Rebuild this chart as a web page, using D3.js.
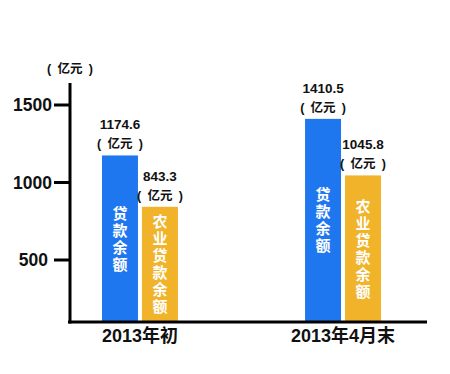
<!DOCTYPE html>
<html>
<head>
<meta charset="utf-8">
<script src="https://cdn.jsdelivr.net/npm/d3@7"></script>
<style>
  body { margin: 0; background: #fff; }
  text { font-family: "Liberation Sans", "Noto Sans CJK SC", sans-serif; font-weight: bold; }
</style>
</head>
<body>
<script>
// data
const periods = ["2013年初", "2013年4月末"];
const seriesNames = ["贷款余额", "农业贷款余额"];
const loans = [1174.6, 1410.5];
const farmLoans = [843.3, 1045.8];
const yTicks = [500, 1000, 1500];
const unitLabel = "(\u2002亿元\u2002)";

const colors = ["#1f77f0", "#f0b32a"];

const width = 450, height = 374;

const svg = d3.select("body").append("svg")
    .attr("width", width)
    .attr("height", height);

// y scale: 1500 -> 105, 500 -> 260
const y = d3.scaleLinear().domain([500, 1500]).range([260, 105]);
const baseY = 322;

const x0 = d3.scaleBand().domain(periods).range([69.5, 413.5]).paddingInner(0.626).paddingOuter(0.16);
const x1 = d3.scaleBand().domain(seriesNames).range([0, x0.bandwidth()]).paddingInner(0.1);

const rows = periods.map((p, i) => ({ period: p, values: [loans[i], farmLoans[i]] }));

// bars
const groups = svg.selectAll("g.grp")
    .data(rows)
    .join("g")
    .attr("class", "grp")
    .attr("transform", d => `translate(${x0(d.period)},0)`);

const bars = groups.selectAll("g.bar")
    .data(d => d.values.map((v, j) => ({ name: seriesNames[j], v: v, j: j })))
    .join("g")
    .attr("class", "bar");

bars.append("rect")
    .attr("x", d => x1(d.name))
    .attr("y", d => y(d.v))
    .attr("width", x1.bandwidth())
    .attr("height", d => baseY - y(d.v))
    .attr("fill", d => colors[d.j]);

// value labels above bars
bars.append("text")
    .attr("x", d => x1(d.name) + x1.bandwidth() / 2)
    .attr("y", d => y(d.v) - 26)
    .attr("text-anchor", "middle")
    .attr("font-size", 13.5)
    .attr("fill", "#111")
    .text(d => d.v.toFixed(1));

bars.append("text")
    .attr("x", d => x1(d.name) + x1.bandwidth() / 2)
    .attr("y", d => y(d.v) - 7)
    .attr("text-anchor", "middle")
    .attr("font-size", 12.5)
    .attr("fill", "#111")
    .text(unitLabel);

// vertical names inside bars
const step = 17;
bars.each(function(d) {
    const chars = Array.from(d.name);
    const mid = (y(d.v) + baseY) / 2;
    const start = mid - (chars.length - 1) * step / 2;
    d3.select(this).selectAll("text.vch")
        .data(chars)
        .join("text")
        .attr("class", "vch")
        .attr("x", x1(d.name) + x1.bandwidth() / 2)
        .attr("y", (c, k) => start + k * step)
        .attr("dy", "0.36em")
        .attr("text-anchor", "middle")
        .attr("font-size", 15)
        .attr("fill", "#fff")
        .text(c => c);
});

// y axis
svg.append("line")
    .attr("x1", 70).attr("x2", 70)
    .attr("y1", 83).attr("y2", baseY + 1.5)
    .attr("stroke", "#000").attr("stroke-width", 3);

svg.selectAll("line.tick")
    .data(yTicks)
    .join("line")
    .attr("class", "tick")
    .attr("x1", 54).attr("x2", 70)
    .attr("y1", d => y(d)).attr("y2", d => y(d))
    .attr("stroke", "#000").attr("stroke-width", 3);

svg.selectAll("text.ytl")
    .data(yTicks)
    .join("text")
    .attr("class", "ytl")
    .attr("x", d => d === 500 ? 48 : 52)
    .attr("y", d => y(d))
    .attr("dy", "0.36em")
    .attr("text-anchor", "end")
    .attr("font-size", 17.5)
    .attr("fill", "#111")
    .text(d => d);

svg.append("text")
    .attr("x", 70)
    .attr("y", 68)
    .attr("dy", "0.36em")
    .attr("text-anchor", "middle")
    .attr("font-size", 12.5)
    .attr("fill", "#111")
    .text(unitLabel);

// x axis
svg.append("line")
    .attr("x1", 68).attr("x2", 427)
    .attr("y1", baseY).attr("y2", baseY)
    .attr("stroke", "#000").attr("stroke-width", 3);

svg.selectAll("text.xtl")
    .data(periods)
    .join("text")
    .attr("class", "xtl")
    .attr("x", d => x0(d) + x0.bandwidth() / 2)
    .attr("y", 336)
    .attr("dy", "0.36em")
    .attr("text-anchor", "middle")
    .attr("font-size", 18)
    .attr("fill", "#111")
    .text(d => d);
</script>
</body>
</html>
